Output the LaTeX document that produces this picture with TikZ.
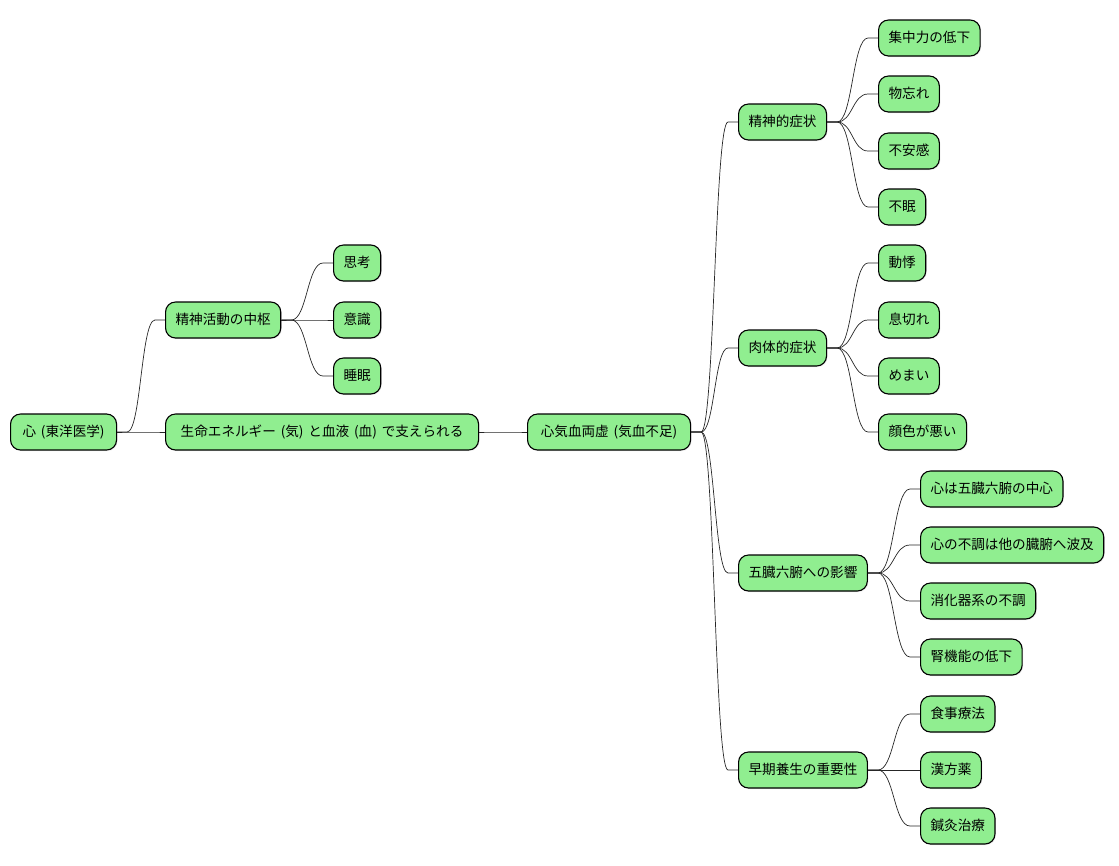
\documentclass[tikz,border=0pt]{standalone}
\usepackage{fontspec}
\setmainfont[WordSpace=1.6]{Noto Sans CJK JP}
\usetikzlibrary{calc,shadows}
\definecolor{mmgreen}{HTML}{90EE90}
\begin{document}
\begin{tikzpicture}[x=1pt,y=-1pt,
  mm/.style={draw=black, line width=1.1pt, fill=mmgreen, rounded corners=10pt,
    minimum height=36pt, inner xsep=10pt, inner ysep=0pt, anchor=west,
    text height=10.5pt, text depth=2.5pt,
    font=\fontsize{13.6}{16}\selectfont,
    drop shadow={opacity=0.18, shadow xshift=1pt, shadow yshift=-1pt}},
  conn/.style={draw=black!85, line width=0.7pt}]
\useasboundingbox (0,0) rectangle (1119,865);
\newcommand\mmlink[2]{\draw[conn] let \p1=(#1.east), \p2=(#2.west) in
  (\p1) -- (\x1+10pt,\y1) .. controls ({(\x1+\x2)/2},\y1) and ({(\x1+\x2)/2},\y2) .. (\x2-10pt,\y2) -- (\p2);}
% level 0-2
\node[mm, minimum width=106pt] (root) at (10,432) {心 (東洋医学)};
\node[mm, minimum width=313pt] (life) at (165,432) {生命エネルギー (気) と血液 (血) で支えられる};
\node[mm, minimum width=163pt] (kyo) at (527,432) {心気血両虚 (気血不足)};
\node[mm] (chu) at (165,320) {精神活動の中枢};
\node[mm] (shiko) at (333,263) {思考};
\node[mm] (ishiki) at (333,320) {意識};
\node[mm] (suimin) at (333,376) {睡眠};
% symptoms
\node[mm] (seis) at (738,122) {精神的症状};
\node[mm] (s1) at (878,38) {集中力の低下};
\node[mm] (s2) at (878,94) {物忘れ};
\node[mm] (s3) at (878,151) {不安感};
\node[mm] (s4) at (878,207) {不眠};
\node[mm] (niku) at (738,348) {肉体的症状};
\node[mm] (n1) at (878,263) {動悸};
\node[mm] (n2) at (878,320) {息切れ};
\node[mm] (n3) at (878,376) {めまい};
\node[mm] (n4) at (878,432) {顔色が悪い};
\node[mm] (go) at (738,573) {五臓六腑への影響};
\node[mm] (g1) at (920,489) {心は五臓六腑の中心};
\node[mm] (g2) at (920,545) {心の不調は他の臓腑へ波及};
\node[mm] (g3) at (920,601) {消化器系の不調};
\node[mm] (g4) at (920,657) {腎機能の低下};
\node[mm] (so) at (738,770) {早期養生の重要性};
\node[mm] (y1) at (920,714) {食事療法};
\node[mm] (y2) at (920,770) {漢方薬};
\node[mm] (y3) at (920,826) {鍼灸治療};
% links
\mmlink{root}{chu}
\mmlink{root}{life}
\mmlink{chu}{shiko}
\mmlink{chu}{ishiki}
\mmlink{chu}{suimin}
\mmlink{life}{kyo}
\mmlink{kyo}{seis}
\mmlink{kyo}{niku}
\mmlink{kyo}{go}
\mmlink{kyo}{so}
\mmlink{seis}{s1}
\mmlink{seis}{s2}
\mmlink{seis}{s3}
\mmlink{seis}{s4}
\mmlink{niku}{n1}
\mmlink{niku}{n2}
\mmlink{niku}{n3}
\mmlink{niku}{n4}
\mmlink{go}{g1}
\mmlink{go}{g2}
\mmlink{go}{g3}
\mmlink{go}{g4}
\mmlink{so}{y1}
\mmlink{so}{y2}
\mmlink{so}{y3}
\end{tikzpicture}
\end{document}
